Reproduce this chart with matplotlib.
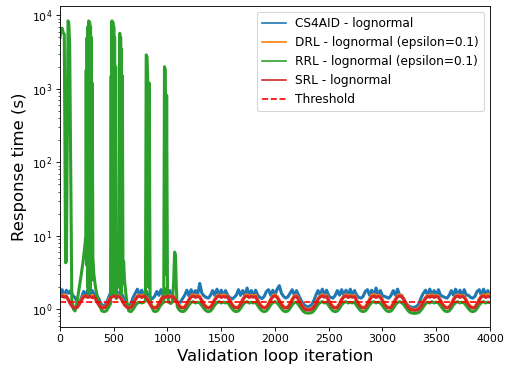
import numpy as np
import matplotlib
matplotlib.use("Agg")
import matplotlib.pyplot as plt

# sampled every 20 iterations, 0..4000
STEP = 20
iterations = np.arange(0, 4001, STEP)

cs4aid = [
  1.56, 1.85, 1.52, 1.82, 1.65, 1.80, 1.52, 1.45, 1.25, 1.20,
  1.45, 1.75, 1.55, 1.85, 1.52, 1.80, 1.56, 1.55, 1.40, 1.20,
  1.10, 1.15, 1.30, 1.55, 1.80, 1.55, 1.85, 1.56, 1.75, 1.55,
  1.35, 1.15, 1.10, 1.20, 1.45, 1.65, 1.88, 1.55, 1.82, 1.52,
  1.80, 1.56, 1.45, 1.40, 1.50, 1.75, 1.55, 1.85, 1.52, 1.90,
  1.56, 1.80, 1.52, 1.45, 1.30, 1.20, 1.25, 1.40, 1.55, 1.82,
  1.52, 1.85, 1.56, 1.80, 1.55, 2.25, 1.65, 1.52, 1.45, 1.42,
  1.55, 1.80, 1.55, 1.88, 1.56, 1.82, 1.52, 1.80, 1.55, 1.45,
  1.38, 1.45, 1.56, 1.85, 1.55, 1.80, 1.52, 1.95, 1.56, 1.80,
  1.52, 1.82, 1.55, 1.45, 1.40, 1.50, 1.75, 1.85, 1.55, 1.82,
  1.56, 1.88, 2.10, 1.65, 1.50, 1.42, 1.48, 1.65, 1.85, 1.55,
  1.80, 1.55, 1.35, 1.20, 1.12, 1.08, 1.10, 1.15, 1.30, 1.55,
  1.80, 1.56, 1.88, 1.55, 1.82, 1.52, 1.45, 1.42, 1.55, 1.80,
  1.56, 1.85, 1.52, 1.82, 1.55, 1.88, 1.56, 1.80, 1.55, 1.45,
  1.42, 1.50, 1.75, 1.85, 1.55, 1.82, 1.52, 1.95, 1.56, 1.80,
  1.52, 1.50, 1.45, 1.42, 1.55, 1.80, 1.56, 1.88, 1.55, 1.55,
  1.35, 1.20, 1.12, 1.08, 1.06, 1.07, 1.10, 1.20, 1.45, 1.65,
  1.82, 1.55, 1.88, 1.56, 1.80, 1.52, 1.85, 1.55, 1.50, 1.45,
  1.42, 1.55, 1.80, 1.56, 1.88, 1.55, 1.82, 1.52, 1.85, 1.56,
  1.55, 1.45, 1.42, 1.50, 1.75, 1.85, 1.55, 1.88, 1.56, 1.80,
  1.52]

drl = [
  1.55, 1.50, 1.58, 1.48, 1.35, 1.20, 1.10, 1.06, 1.08, 1.20,
  1.38, 1.52, 1.48, 1.56, 1.50, 1.55, 1.47, 1.33, 1.18, 1.09,
  1.06, 1.08, 1.20, 1.38, 1.50, 1.58, 1.50, 1.55, 1.48, 1.33,
  1.18, 1.09, 1.06, 1.08, 1.20, 1.38, 1.52, 1.56, 1.50, 1.58,
  1.50, 1.33, 1.18, 1.09, 1.06, 1.08, 1.20, 1.38, 1.55, 1.50,
  1.58, 1.50, 1.55, 1.48, 1.33, 1.18, 1.09, 1.06, 1.08, 1.20,
  1.38, 1.52, 1.58, 1.50, 1.55, 1.50, 1.33, 1.18, 1.09, 1.06,
  1.08, 1.20, 1.38, 1.52, 1.56, 1.50, 1.58, 1.50, 1.52, 1.33,
  1.18, 1.09, 1.06, 1.08, 1.20, 1.38, 1.52, 1.58, 1.50, 1.55,
  1.50, 1.55, 1.33, 1.18, 1.09, 1.06, 1.08, 1.20, 1.38, 1.52,
  1.58, 1.50, 1.33, 1.18, 1.09, 1.06, 1.08, 1.20, 1.38, 1.52,
  1.55, 1.38, 1.20, 1.08, 1.02, 1.00, 1.00, 1.02, 1.08, 1.20,
  1.40, 1.52, 1.58, 1.50, 1.55, 1.33, 1.18, 1.09, 1.06, 1.08,
  1.20, 1.38, 1.52, 1.58, 1.50, 1.55, 1.50, 1.55, 1.33, 1.18,
  1.09, 1.06, 1.08, 1.20, 1.38, 1.55, 1.60, 1.50, 1.55, 1.50,
  1.33, 1.18, 1.09, 1.06, 1.08, 1.20, 1.38, 1.52, 1.58, 1.50,
  1.38, 1.20, 1.08, 1.02, 1.00, 0.99, 1.00, 1.05, 1.14, 1.30,
  1.45, 1.55, 1.50, 1.58, 1.50, 1.55, 1.50, 1.33, 1.18, 1.09,
  1.06, 1.08, 1.20, 1.38, 1.52, 1.58, 1.50, 1.55, 1.50, 1.33,
  1.18, 1.09, 1.06, 1.08, 1.20, 1.38, 1.52, 1.58, 1.50, 1.60,
  1.55]

srl = [
  1.48, 1.52, 1.46, 1.50, 1.32, 1.16, 1.07, 1.04, 1.06, 1.17,
  1.34, 1.47, 1.52, 1.45, 1.50, 1.44, 1.49, 1.30, 1.15, 1.07,
  1.04, 1.06, 1.16, 1.33, 1.47, 1.52, 1.46, 1.50, 1.45, 1.30,
  1.15, 1.07, 1.04, 1.06, 1.17, 1.34, 1.48, 1.52, 1.45, 1.51,
  1.46, 1.30, 1.15, 1.07, 1.04, 1.06, 1.17, 1.34, 1.48, 1.45,
  1.52, 1.46, 1.50, 1.44, 1.30, 1.15, 1.07, 1.04, 1.06, 1.17,
  1.34, 1.48, 1.52, 1.45, 1.50, 1.46, 1.30, 1.15, 1.07, 1.04,
  1.06, 1.17, 1.34, 1.47, 1.52, 1.45, 1.50, 1.46, 1.49, 1.30,
  1.15, 1.07, 1.04, 1.06, 1.17, 1.34, 1.48, 1.52, 1.45, 1.50,
  1.46, 1.49, 1.30, 1.15, 1.07, 1.04, 1.06, 1.17, 1.34, 1.48,
  1.52, 1.45, 1.30, 1.15, 1.07, 1.04, 1.06, 1.17, 1.34, 1.48,
  1.50, 1.35, 1.18, 1.06, 1.00, 0.98, 0.98, 1.00, 1.06, 1.18,
  1.36, 1.48, 1.52, 1.46, 1.50, 1.30, 1.15, 1.07, 1.04, 1.06,
  1.17, 1.34, 1.48, 1.52, 1.45, 1.50, 1.46, 1.49, 1.30, 1.15,
  1.07, 1.04, 1.06, 1.17, 1.34, 1.48, 1.52, 1.45, 1.50, 1.46,
  1.30, 1.15, 1.07, 1.04, 1.06, 1.17, 1.34, 1.48, 1.52, 1.47,
  1.35, 1.18, 1.06, 1.00, 0.98, 0.97, 0.98, 1.02, 1.10, 1.25,
  1.40, 1.50, 1.46, 1.52, 1.45, 1.50, 1.46, 1.30, 1.15, 1.07,
  1.04, 1.06, 1.17, 1.34, 1.48, 1.52, 1.45, 1.50, 1.46, 1.30,
  1.15, 1.07, 1.04, 1.06, 1.17, 1.34, 1.48, 1.52, 1.45, 1.50,
  1.47]

# RRL: irregular sampling over the spiky start, then every 20 from 1100
rrlEarlyIter = [
  0, 10, 20, 30, 40, 52, 60, 75, 82, 90,
  110, 125, 140, 155, 175, 195, 215, 232, 240, 244,
  248, 252, 256, 260, 264, 268, 272, 276, 280, 284,
  288, 292, 296, 300, 306, 315, 330, 350, 370, 390,
  410, 430, 450, 470, 476, 480, 484, 488, 492, 496,
  500, 504, 508, 512, 518, 524, 530, 540, 550, 556,
  560, 564, 568, 572, 576, 580, 586, 592, 600, 610,
  620, 640, 660, 680, 700, 720, 740, 760, 780, 795,
  802, 810, 818, 824, 830, 838, 850, 870, 890, 910,
  930, 950, 965, 972, 980, 986, 992, 1000, 1010, 1030,
  1045, 1058, 1066, 1074, 1082, 1090]
rrlEarly = [
  5000, 6300, 6700, 5800, 5500, 4.3, 4.5, 8400, 7800, 4000,
  1.3, 1.0, 0.95, 1.2, 1.8, 2.8, 4.5, 7.5, 10, 1800,
  4, 5000, 2, 7000, 1.5, 8400, 3, 8000, 1.8, 7000,
  4, 5000, 2.5, 1200, 5, 3, 2, 1.4, 1.1, 0.95,
  0.93, 0.95, 1.05, 1.2, 1500, 3, 8400, 2.5, 8000, 1.6,
  7000, 2, 5000, 1.8, 2000, 1.4, 3, 5.5, 2, 5700,
  2.5, 5000, 1.6, 3500, 2.2, 1500, 3, 4.5, 2.5, 1.8,
  1.3, 0.95, 0.93, 1.0, 1.12, 1.22, 1.25, 1.22, 1.25, 1.3,
  2900, 2700, 1000, 2.0, 1200, 1.5, 1.1, 0.95, 0.93, 0.97,
  1.1, 1.2, 1.25, 2000, 1800, 3, 820, 1.6, 1.25, 1.2,
  1.25, 2.5, 6.0, 5.5, 2.0, 1.1]
rrlLate = [
                                1.02, 0.95, 0.93, 0.95, 1.03,
  1.15, 1.24, 1.27, 1.22, 1.25, 1.22, 1.12, 1.02, 0.95, 0.93,
  0.95, 1.03, 1.15, 1.23, 1.27, 1.22, 1.25, 1.22, 1.25, 1.12,
  1.02, 0.95, 0.93, 0.95, 1.03, 1.15, 1.24, 1.27, 1.22, 1.25,
  1.22, 1.25, 1.12, 1.02, 0.95, 0.93, 0.95, 1.03, 1.15, 1.24,
  1.27, 1.22, 1.12, 1.02, 0.95, 0.93, 0.95, 1.03, 1.15, 1.24,
  1.25, 1.15, 1.04, 0.95, 0.90, 0.89, 0.89, 0.90, 0.95, 1.04,
  1.16, 1.24, 1.27, 1.22, 1.25, 1.12, 1.02, 0.95, 0.93, 0.95,
  1.03, 1.15, 1.24, 1.27, 1.22, 1.25, 1.22, 1.25, 1.12, 1.02,
  0.95, 0.93, 0.95, 1.03, 1.15, 1.24, 1.27, 1.22, 1.25, 1.22,
  1.12, 1.02, 0.95, 0.93, 0.95, 1.03, 1.15, 1.24, 1.27, 1.23,
  1.15, 1.04, 0.95, 0.90, 0.89, 0.88, 0.89, 0.91, 0.98, 1.08,
  1.19, 1.25, 1.22, 1.27, 1.22, 1.25, 1.22, 1.12, 1.02, 0.95,
  0.93, 0.95, 1.03, 1.15, 1.24, 1.27, 1.22, 1.25, 1.22, 1.12,
  1.02, 0.95, 0.93, 0.95, 1.03, 1.15, 1.24, 1.27, 1.22, 1.25,
  1.23]

THRESHOLD = 1.25

rrlIter = rrlEarlyIter + list(range(1100, 4001, STEP))
rrl = rrlEarly + rrlLate

DPI = 79
fig = plt.figure(figsize=(505 / DPI, 371 / DPI), dpi=DPI)
ax = fig.add_axes([0.1188, 0.1194, 0.8515, 0.8644])

LW = 2.8
ax.plot(iterations, cs4aid, lw=LW, label='CS4AID - lognormal')
ax.plot(iterations, drl, lw=LW, label='DRL - lognormal (epsilon=0.1)')
ax.plot(rrlIter, rrl, lw=LW, label='RRL - lognormal (epsilon=0.1)')
ax.plot(iterations, srl, lw=LW, label='SRL - lognormal')
ax.axhline(THRESHOLD, color='red', ls='--', lw=1.5, label='Threshold')

ax.set_yscale('log')
ax.set_xlim(0, 4000)
ax.set_ylim(0.58, 13400)
ax.set_xlabel('Validation loop iteration', fontsize=15)
ax.set_ylabel('Response time (s)', fontsize=15)

leg = ax.legend(loc='upper right', fontsize=11)
for line in leg.get_lines():
  line.set_linewidth(1.5)

fig.savefig('out.png', dpi=DPI)
